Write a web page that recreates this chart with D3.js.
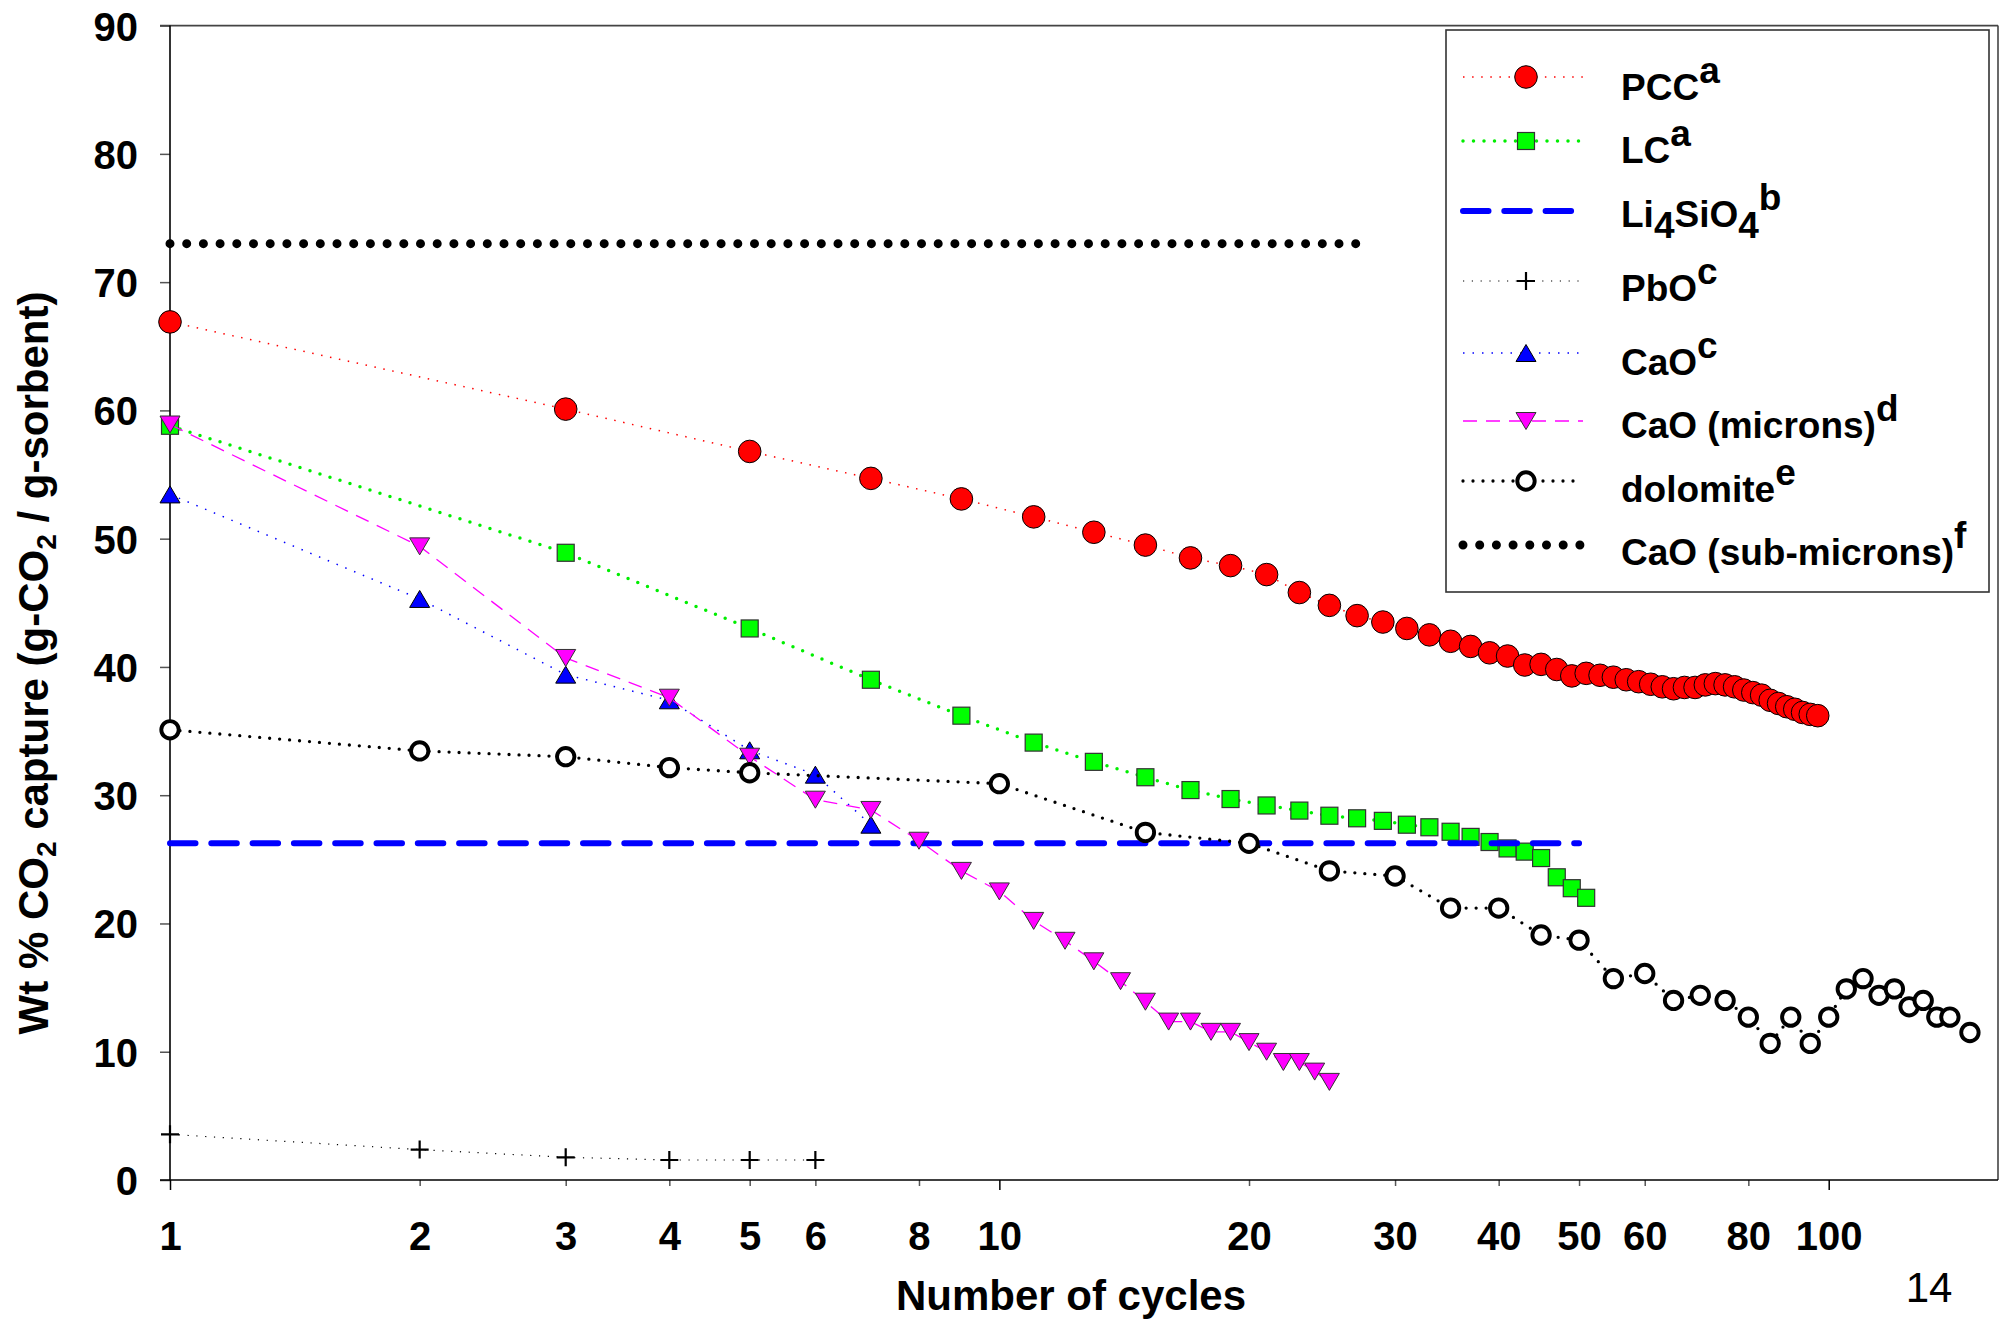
<!DOCTYPE html>
<html><head><meta charset="utf-8">
<script src="https://cdn.jsdelivr.net/npm/d3@7"></script>
<style>
body{margin:0;background:#fff}
svg{display:block}
text{font-family:Arial,"Liberation Sans",sans-serif}
</style>
</head><body>
<svg id="c" width="2005" height="1321"></svg>
<script>
// ---------- DATA ----------
const pccX = [1,3,5,7,9,11,13,15,17,19,21,23,25,27,29,31,33,35,37,39,41,43,45,47,49,51,53,55,57,59,61,63,65,67,69,71,73,75,77,79,81,83,85,87,89,91,93,95,97];
const pccY = [66.9,60.1,56.8,54.7,53.1,51.7,50.5,49.5,48.5,47.9,47.2,45.8,44.8,44.0,43.5,43.0,42.5,42.0,41.6,41.1,40.85,40.15,40.2,39.8,39.3,39.5,39.35,39.2,39.0,38.85,38.65,38.45,38.3,38.4,38.4,38.6,38.7,38.6,38.45,38.2,38.0,37.8,37.4,37.15,36.9,36.7,36.45,36.3,36.2];

const lcX = [1,3,5,7,9,11,13,15,17,19,21,23,25,27,29,31,33,35,37,39,41,43,45,47,49,51];
const lcY = [58.8,48.9,43.0,39.0,36.2,34.1,32.6,31.4,30.4,29.7,29.2,28.8,28.4,28.2,28.0,27.7,27.5,27.15,26.75,26.35,25.85,25.6,25.1,23.6,22.75,22.0];

const liX = [1,50];
const liY = [26.25,26.25];

const pboX = [1,2,3,4,5,6];
const pboY = [3.56,2.37,1.77,1.56,1.56,1.56];

const caoX = [1,2,3,4,5,6,7];
const caoY = [53.45,45.3,39.4,37.4,33.5,31.6,27.7];

const micX = [1,2,3,4,5,6,7,8,9,10,11,12,13,14,15,16,17,18,19,20,21,22,23,24,25];
const micY = [58.9,49.4,40.7,37.6,33.0,29.65,28.85,26.45,24.1,22.5,20.2,18.65,17.05,15.5,13.9,12.35,12.35,11.55,11.55,10.75,10.0,9.2,9.2,8.45,7.65];

const dolX = [1,2,3,4,5,10,15,20,25,30,35,40,45,50,55,60,65,70,75,80,85,90,95,100,105,110,115,120,125,130,135,140,148];
const dolY = [35.1,33.45,33.0,32.15,31.75,30.9,27.1,26.25,24.1,23.7,21.2,21.2,19.1,18.7,15.7,16.1,14.0,14.4,14.0,12.7,10.65,12.7,10.65,12.7,14.9,15.7,14.4,14.9,13.5,14.0,12.7,12.7,11.5];

const subX = [1,27];
const subY = [73,73];

const xTicks = [1,2,3,4,5,6,8,10,20,30,40,50,60,80,100];
const xMajor = [1,10,100];
const yTicks = [0,10,20,30,40,50,60,70,80,90];

const xTitle = "Number of cycles";
const pageNo = "14";

// ---------- LAYOUT ----------
const L = 170, R = 1998, T = 25.6, B = 1180;
const svg = d3.select("#c");
const x = d3.scaleLog().domain([1,160]).range([L,R]);
const y = d3.scaleLinear().domain([0,90]).range([B,T]);

const styles = {
  pcc: {stroke:"#ff0000", width:1.5, dash:"1.5,7.6", cap:"butt"},
  lc:  {stroke:"#00ee00", width:3.5, dash:"0,10.5", cap:"round"},
  li:  {stroke:"#0000ff", width:6, dash:"25.5,15.8", cap:"round"},
  pbo: {stroke:"#000000", width:1.2, dash:"1.2,7.6", cap:"butt"},
  cao: {stroke:"#0000ff", width:1.5, dash:"1.5,8", cap:"butt"},
  mic: {stroke:"#ff00ff", width:1.3, dash:"14,9", cap:"butt"},
  dol: {stroke:"#000000", width:3.3, dash:"0,10", cap:"round"},
  sub: {stroke:"#000000", width:9, dash:"0,16.7", cap:"round"}
};

function marker(g, type, cx, cy){
  if(type==="circle"){
    g.append("circle").attr("cx",cx).attr("cy",cy).attr("r",11.3).attr("fill","#ff0000").attr("stroke","#000").attr("stroke-width",1);
  } else if(type==="square"){
    g.append("rect").attr("x",cx-8.5).attr("y",cy-8.5).attr("width",17).attr("height",17).attr("fill","#00ff00").attr("stroke","#333").attr("stroke-width",1.2);
  } else if(type==="triUp"){
    g.append("path").attr("d",`M${cx},${cy-8.5}L${cx+10},${cy+8.5}L${cx-10},${cy+8.5}Z`).attr("fill","#0000ff").attr("stroke","#000").attr("stroke-width",1);
  } else if(type==="triDown"){
    g.append("path").attr("d",`M${cx-10},${cy-8.5}L${cx+10},${cy-8.5}L${cx},${cy+8.5}Z`).attr("fill","#ff00ff").attr("stroke","#333").attr("stroke-width",1);
  } else if(type==="plus"){
    g.append("path").attr("d",`M${cx-9},${cy}H${cx+9}M${cx},${cy-9}V${cy+9}`).attr("stroke","#000").attr("stroke-width",2.2).attr("fill","none");
  } else if(type==="open"){
    g.append("circle").attr("cx",cx).attr("cy",cy).attr("r",8.7).attr("fill","#fff").attr("stroke","#000").attr("stroke-width",3.9);
  }
}

function styleLine(sel, s){
  sel.attr("fill","none").attr("stroke",s.stroke).attr("stroke-width",s.width)
     .attr("stroke-dasharray",s.dash).attr("stroke-linecap",s.cap);
}

const series = [
  {xs:pccX, ys:pccY, st:styles.pcc, m:"circle"},
  {xs:lcX,  ys:lcY,  st:styles.lc,  m:"square"},
  {xs:liX,  ys:liY,  st:styles.li,  m:null},
  {xs:pboX, ys:pboY, st:styles.pbo, m:"plus"},
  {xs:caoX, ys:caoY, st:styles.cao, m:"triUp"},
  {xs:micX, ys:micY, st:styles.mic, m:"triDown"},
  {xs:dolX, ys:dolY, st:styles.dol, m:"open"},
  {xs:subX, ys:subY, st:styles.sub, m:null}
];

// ---------- AXES ----------
const yAx = svg.append("g").attr("transform",`translate(${L},0)`)
  .call(d3.axisLeft(y).tickValues(yTicks).tickSize(10).tickSizeOuter(0).tickFormat(d=>d));
yAx.select(".domain").remove();
yAx.selectAll(".tick line").attr("stroke","#555").attr("stroke-width",1.5);
yAx.selectAll(".tick text").attr("x",-32).attr("dy","0.36em")
  .attr("font-size",40).attr("font-weight","bold").attr("font-family","Arial, 'Liberation Sans', sans-serif").attr("fill","#000");

const xAx = svg.append("g").attr("transform",`translate(0,${B})`)
  .call(d3.axisBottom(x).tickValues(xTicks).tickSize(6).tickSizeOuter(0).tickFormat(d=>d));
xAx.select(".domain").remove();
xAx.selectAll(".tick line").attr("stroke",d=>xMajor.includes(d)?"#000":"#555").attr("stroke-width",1.5)
  .attr("y2",d=>xMajor.includes(d)?10:6);
xAx.selectAll(".tick text").attr("y",70).attr("dy",0)
  .attr("font-size",40).attr("font-weight","bold").attr("font-family","Arial, 'Liberation Sans', sans-serif").attr("fill","#000");

// frame
svg.append("line").attr("x1",L-10).attr("x2",R).attr("y1",T).attr("y2",T).attr("stroke","#444").attr("stroke-width",1.6);
svg.append("line").attr("x1",R).attr("x2",R).attr("y1",T).attr("y2",B).attr("stroke","#444").attr("stroke-width",1.6);
svg.append("line").attr("x1",L).attr("x2",L).attr("y1",T).attr("y2",B).attr("stroke","#000").attr("stroke-width",1.6);
svg.append("line").attr("x1",L-10).attr("x2",R).attr("y1",B).attr("y2",B).attr("stroke","#000").attr("stroke-width",1.6);

// ---------- SERIES ----------
const plot = svg.append("g");
series.forEach(s=>{
  const pts = s.xs.map((d,i)=>[x(d), y(s.ys[i])]);
  styleLine(plot.append("path").attr("d", d3.line()(pts)), s.st);
  if(s.m){ const mg = plot.append("g"); pts.forEach(p=>marker(mg, s.m, p[0], p[1])); }
});

// ---------- LEGEND ----------
const lg = svg.append("g");
lg.append("rect").attr("x",1446).attr("y",30).attr("width",543).attr("height",562)
  .attr("fill","#fff").attr("stroke","#333").attr("stroke-width",1.6);
const legendLabels = [
  [["PCC",0],["a",-1]],
  [["LC",0],["a",-1]],
  [["Li",0],["4",1],["SiO",0],["4",1],["b",-1]],
  [["PbO",0],["c",-1]],
  [["CaO",0],["c",-1]],
  [["CaO (microns)",0],["d",-1]],
  [["dolomite",0],["e",-1]],
  [["CaO (sub-microns)",0],["f",-1]]
];
const rowMark = [77,141,211,281,353,421,481,545];
const rowBase = [100,163,227,301,375,438,502,565];
series.forEach((s,i)=>{
  const cy = rowMark[i];
  const x1 = 1463, x2 = (s.m===null)? 1580 : 1583;
  styleLine(lg.append("path").attr("d", d3.line()([[x1,cy],[x2,cy]])), s.st);
  if(s.m) marker(lg, s.m, 1526, cy);
  const t = lg.append("text").attr("x",1621).attr("y",rowBase[i]).attr("font-size",37).attr("font-weight","bold").attr("fill","#000");
  let cur = 0;
  legendLabels[i].forEach(([txt,lev])=>{
    const target = lev===1?11:(lev===-1?-17:0);
    t.append("tspan").attr("dy", target-cur).text(txt);
    cur = target;
  });
});

// ---------- TITLES ----------
const yt = svg.append("text").attr("transform","translate(48,663) rotate(-90)")
  .attr("text-anchor","middle").attr("font-size",42).attr("font-weight","bold").attr("fill","#000");
yt.append("tspan").text("Wt % CO");
yt.append("tspan").attr("dy",8).attr("font-size",28).text("2");
yt.append("tspan").attr("dy",-8).text(" capture (g-CO");
yt.append("tspan").attr("dy",8).attr("font-size",28).text("2");
yt.append("tspan").attr("dy",-8).text(" / g-sorbent)");

svg.append("text").attr("x",1071).attr("y",1310).attr("text-anchor","middle")
  .attr("font-size",42).attr("font-weight","bold").attr("fill","#000").text(xTitle);
svg.append("text").attr("x",1929).attr("y",1302).attr("text-anchor","middle")
  .attr("font-size",42).attr("font-weight","normal").attr("fill","#000").text(pageNo);
</script>
</body></html>
